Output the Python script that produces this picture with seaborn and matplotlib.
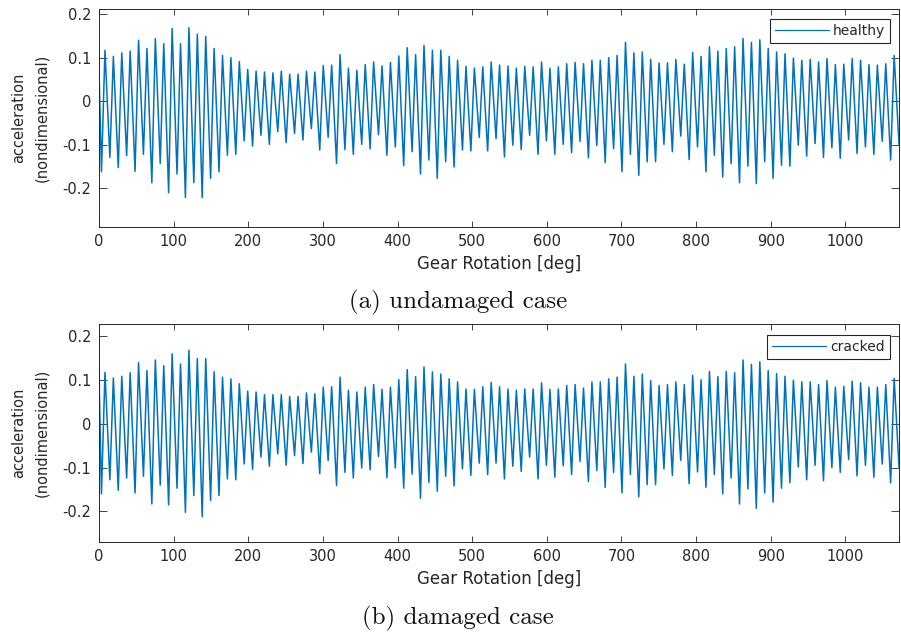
import numpy as np
import pandas as pd
import matplotlib
matplotlib.use("Agg")
import matplotlib.pyplot as plt
import seaborn as sns

# ---------------- data ----------------
PERIOD = 11.25        # deg per mesh cycle (32 teeth)
FIRST_PEAK = 8.0      # deg of first peak
RISE = 4.7            # deg from trough to following peak
X_MAX = 1072

xticks = [0, 100, 200, 300, 400, 500, 600, 700, 800, 900, 1000]
yticks = [-0.2, -0.1, 0, 0.1, 0.2]
ytick_labels = ["-0.2", "-0.1", "0", "0.1", "0.2"]

healthy_start_angle = [0.0]
healthy_start = [0.071]
healthy_peaks = [0.117, 0.103, 0.111, 0.115, 0.140, 0.121, 0.144, 0.132, 0.167, 0.132, 0.169, 0.154,
                 0.149, 0.121, 0.105, 0.100, 0.091, 0.073, 0.069, 0.067, 0.065, 0.069, 0.062, 0.062,
                 0.069, 0.067, 0.082, 0.083, 0.107, 0.076, 0.071, 0.084, 0.090, 0.081, 0.089, 0.104,
                 0.123, 0.107, 0.128, 0.117, 0.117, 0.103, 0.094, 0.080, 0.076, 0.079, 0.090,
                 0.083, 0.081, 0.076, 0.080, 0.079, 0.090, 0.076, 0.079, 0.086, 0.089, 0.086, 0.094,
                 0.094, 0.100, 0.105, 0.135, 0.111, 0.113, 0.096, 0.088, 0.088, 0.096, 0.085, 0.112,
                 0.103, 0.125, 0.115, 0.121, 0.125, 0.144, 0.135, 0.141, 0.121, 0.113, 0.109, 0.099,
                 0.094, 0.096, 0.090, 0.098, 0.084, 0.085, 0.098, 0.094, 0.084, 0.083, 0.086, 0.105]
healthy_troughs = [-0.162, -0.129, -0.152, -0.125, -0.161, -0.122, -0.187, -0.143, -0.210, -0.167,
                   -0.221, -0.187, -0.221, -0.177, -0.162, -0.124, -0.122, -0.091, -0.103, -0.078,
                   -0.099, -0.070, -0.095, -0.074,
                   -0.089, -0.063, -0.112, -0.083, -0.143, -0.111, -0.122, -0.099, -0.109, -0.077,
                   -0.124, -0.105, -0.148, -0.116, -0.167, -0.135, -0.177, -0.139, -0.151, -0.112,
                   -0.114, -0.083, -0.114,
                   -0.086, -0.128, -0.101, -0.111, -0.078, -0.122, -0.091, -0.122, -0.099, -0.118,
                   -0.092, -0.130, -0.102, -0.141, -0.109, -0.162, -0.122, -0.170, -0.139, -0.139,
                   -0.099, -0.116, -0.080, -0.134,
                   -0.105, -0.162, -0.124, -0.174, -0.143, -0.187, -0.149, -0.189, -0.139, -0.177,
                   -0.147, -0.149, -0.101, -0.126, -0.097, -0.129, -0.107, -0.131, -0.089, -0.120,
                   -0.105, -0.122, -0.092, -0.135, -0.100]

cracked_start_angle = [0.0, 0.5]
cracked_start = [0.24, 0.072]
cracked_peaks = [0.117, 0.104, 0.108, 0.116, 0.139, 0.121, 0.145, 0.132, 0.159, 0.136, 0.167, 0.148,
                 0.148, 0.118, 0.106, 0.102, 0.091, 0.074, 0.072, 0.066, 0.066, 0.066, 0.062,
                 0.062, 0.070, 0.068, 0.083, 0.084, 0.106, 0.076, 0.072, 0.083, 0.089, 0.078, 0.083,
                 0.100, 0.123, 0.107, 0.129, 0.118, 0.113, 0.102, 0.095, 0.079, 0.078, 0.084, 0.094,
                 0.084, 0.079, 0.076, 0.079, 0.079, 0.093, 0.078, 0.079, 0.087, 0.089, 0.081, 0.095,
                 0.095, 0.102, 0.106, 0.136, 0.108, 0.113, 0.098, 0.087, 0.089, 0.095, 0.089, 0.110,
                 0.100, 0.119, 0.107, 0.119, 0.116, 0.145, 0.135, 0.141, 0.121, 0.114, 0.108, 0.099,
                 0.095, 0.095, 0.089, 0.098, 0.083, 0.085, 0.097, 0.093, 0.083, 0.083, 0.089, 0.103]
cracked_troughs = [-0.160, -0.128, -0.152, -0.124, -0.158, -0.120, -0.183, -0.140, -0.185, -0.147,
                   -0.202, -0.164, -0.212, -0.175, -0.164, -0.126, -0.128, -0.092, -0.104, -0.076,
                   -0.097, -0.069, -0.095,
                   -0.073, -0.091, -0.065, -0.114, -0.084, -0.141, -0.111, -0.124, -0.101, -0.105,
                   -0.075, -0.123, -0.101, -0.147, -0.115, -0.170, -0.134, -0.154, -0.120, -0.142,
                   -0.103, -0.118, -0.090, -0.116,
                   -0.090, -0.126, -0.097, -0.109, -0.076, -0.126, -0.095, -0.122, -0.096, -0.116,
                   -0.086, -0.132, -0.107, -0.145, -0.111, -0.158, -0.116, -0.167, -0.139, -0.139,
                   -0.103, -0.118, -0.084, -0.137,
                   -0.110, -0.145, -0.116, -0.160, -0.124, -0.183, -0.149, -0.193, -0.158, -0.179,
                   -0.147, -0.135, -0.099, -0.128, -0.095, -0.130, -0.100, -0.111, -0.082, -0.119,
                   -0.095, -0.122, -0.092, -0.135, -0.100]


def build_frame(start_angle, start_vals, troughs, peaks, name):
    n = len(peaks)
    peak_x = FIRST_PEAK + PERIOD * np.arange(n)
    trough_x = np.append(peak_x - RISE, peak_x[-1] + PERIOD - RISE)
    xs = list(start_angle)
    ys = list(start_vals)
    for i in range(n):
        xs += [trough_x[i], peak_x[i]]
        ys += [troughs[i], peaks[i]]
    xs.append(trough_x[-1])
    ys.append(troughs[-1])
    return pd.DataFrame({"angle": xs, "accel": ys, "series": name})


df_h = build_frame(healthy_start_angle, healthy_start, healthy_troughs, healthy_peaks, "healthy")
df_c = build_frame(cracked_start_angle, cracked_start, cracked_troughs, cracked_peaks, "cracked")

# ---------------- style ----------------
sns.set_style("ticks")
plt.rcParams["font.family"] = ["DejaVu Sans"]
plt.rcParams["axes.unicode_minus"] = False

LINE = "#0072BD"
AX = "#262626"

fig = plt.figure(figsize=(9.01, 6.32), dpi=100)
W, H = 901.0, 632.0
ax1 = fig.add_axes([99 / W, 1 - 226.7 / H, 800 / W, (226.7 - 9.3) / H])
ax2 = fig.add_axes([99 / W, 1 - 541.7 / H, 800 / W, (541.7 - 324.0) / H])


def style(ax, df, ylim, leg_top):
    sns.lineplot(data=df, x="angle", y="accel", ax=ax, color=LINE, lw=1.1,
                 label=df["series"].iloc[0], sort=False, estimator=None)
    ax.set_xlim(0, X_MAX)
    ax.set_ylim(*ylim)
    ax.set_xticks(xticks)
    ax.set_xticklabels([str(t) for t in xticks])
    ax.set_yticks(yticks)
    ax.set_yticklabels(ytick_labels)
    for s in ax.spines.values():
        s.set_visible(True)
        s.set_color(AX)
        s.set_linewidth(0.7)
    ax.tick_params(axis="x", direction="in", length=4.2, width=0.6, top=True, bottom=True,
                   labelsize=10.5, pad=5.0, colors=AX)
    ax.tick_params(axis="y", direction="in", length=5.8, width=0.6, left=True, right=True,
                   labelsize=10.5, pad=5.6, colors=AX)
    ax.set_xlabel("Gear Rotation [deg]", fontsize=12, color=AX)
    ax.xaxis.set_label_coords(0.5, -0.13)
    ax.set_ylabel("acceleration\n(nondimensional)", fontsize=10.5, color=AX, linespacing=1.7)
    ax.yaxis.set_label_coords(-0.062, 0.5)
    leg = ax.legend(loc="upper right", bbox_to_anchor=(0.9888, leg_top), borderaxespad=0,
                    fontsize=10, frameon=True, fancybox=False, framealpha=1, edgecolor=AX,
                    handlelength=3.9, handletextpad=0.3, borderpad=0.35)
    leg.get_frame().set_linewidth(0.8)
    for h in leg.get_lines():
        h.set_linewidth(0.9)


style(ax1, df_h, (-0.288, 0.211), 0.9554)
style(ax2, df_c, (-0.269, 0.227), 0.9495)

fig.text(458 / W, 1 - 302 / H, "(a) undamaged case", ha="center", va="center",
         fontfamily="cmr10", fontsize=18, color="#111111")
fig.text(458 / W, 1 - 618 / H, "(b) damaged case", ha="center", va="center",
         fontfamily="cmr10", fontsize=18, color="#111111")

fig.savefig("out.png", dpi=100)
